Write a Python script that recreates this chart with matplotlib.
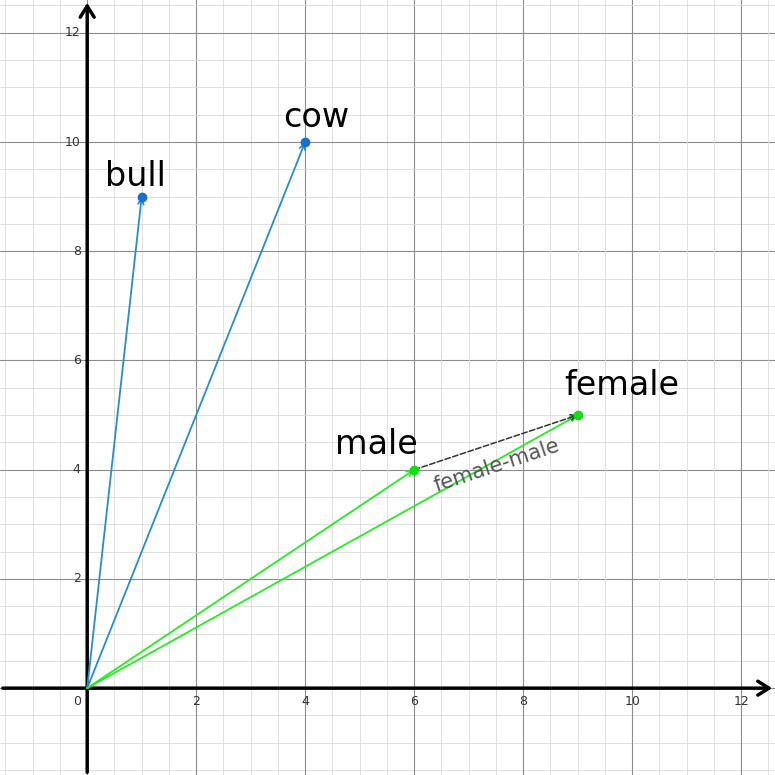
import numpy as np
import matplotlib.pyplot as plt

names = ["bull", "cow", "male", "female"]
xs = [1, 4, 6, 9]
ys = [9, 10, 4, 5]
label_x = [0.88, 4.2, 5.3, 9.8]
label_y = [9.2, 10.27, 4.28, 5.37]
line_colors = ["#2a8cc8", "#2a8cc8", "#22ee22", "#22ee22"]
pt_colors = ["#1a6fd0", "#1a6fd0", "#11dd11", "#11dd11"]
ticks = [2, 4, 6, 8, 10, 12]

fig = plt.figure(figsize=(7.75, 7.75), dpi=100)
ax = fig.add_axes([0, 0, 1, 1])
ax.set_xlim(-1.6, 12.62)
ax.set_ylim(-1.59, 12.6)
ax.axis("off")

# grid
for v in np.arange(-1.5, 13, 0.5):
    major = abs(v / 2 - round(v / 2)) < 1e-9
    c = "#8c8c8c" if major else "#dcdcdc"
    lw = 0.8 if major else 0.6
    ax.axvline(v, color=c, lw=lw, zorder=0)
    ax.axhline(v, color=c, lw=lw, zorder=0)

# axes with arrows
ax.annotate("", xy=(12.62, 0), xytext=(-1.6, 0),
            arrowprops=dict(arrowstyle="->,head_length=0.8,head_width=0.5", lw=2.5, color="black"))
ax.annotate("", xy=(0, 12.6), xytext=(0, -1.59),
            arrowprops=dict(arrowstyle="->,head_length=0.8,head_width=0.5", lw=2.5, color="black"))
for t in ticks:
    ax.text(t, -0.12, str(t), ha="center", va="top", fontsize=9, color="#333333")
    ax.text(-0.12, t, str(t), ha="right", va="center", fontsize=9, color="#333333")
ax.text(-0.12, -0.12, "0", ha="right", va="top", fontsize=9, color="#333333")

# vectors
for n, x, y, lx, ly, lc, pc in zip(names, xs, ys, label_x, label_y, line_colors, pt_colors):
    ax.annotate("", xy=(x, y), xytext=(0, 0),
                arrowprops=dict(arrowstyle="->", lw=1.3, color=lc, shrinkA=0, shrinkB=0))
    ax.plot(x, y, "o", color=pc, ms=6, zorder=5)
    ax.text(lx, ly, n, fontsize=24, ha="center", va="baseline", color="black")

# difference vector
ax.annotate("", xy=(xs[3], ys[3]), xytext=(xs[2], ys[2]),
            arrowprops=dict(arrowstyle="->", lw=1.1, color="#333333", ls="--",
                            shrinkA=0, shrinkB=0))
ax.text(7.52, 4.08, "female-male", rotation=18.4, fontsize=15, color="#555555",
        ha="center", va="center", rotation_mode="anchor")

fig.savefig("out.png", dpi=100)
